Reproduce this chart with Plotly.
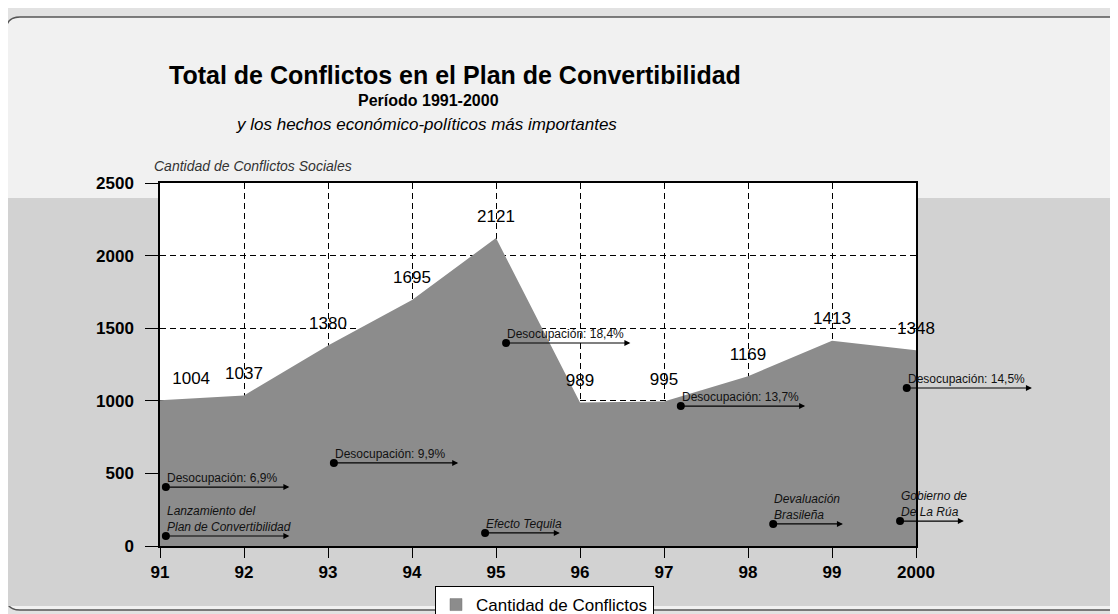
import plotly.graph_objects as go

# ---------------- data ----------------
years = [1991, 1992, 1993, 1994, 1995, 1996, 1997, 1998, 1999, 2000]
conflicts = [1004, 1037, 1380, 1695, 2121, 989, 995, 1169, 1413, 1348]
tick_labels = ["91", "92", "93", "94", "95", "96", "97", "98", "99", "2000"]
label_pos = ["top right", "top center", "top center", "top center", "top center",
             "top center", "top center", "top center", "top center", "top center"]

event_x = [1991.07, 1991.07, 1993.07, 1994.87, 1995.12, 1997.2, 1998.3, 1999.81, 1999.89]
event_y = [406, 69, 572, 90, 1398, 964, 152, 172, 1088]
event_end = [1992.54, 1992.54, 1994.55, 1995.76, 1996.6, 1998.68, 1999.13, 2000.57, 2001.38]
event_text = ["Desocupación: 6,9%", "Lanzamiento del<br>Plan de Convertibilidad",
              "Desocupación: 9,9%", "Efecto Tequila", "Desocupación: 18,4%",
              "Desocupación: 13,7%", "Devaluación<br>Brasileña", "Gobierno de<br>De La Rúa",
              "Desocupación: 14,5%"]
event_italic = [False, True, False, True, False, False, True, True, False]

# ---------------- layout geometry (screen px, page body offset of 8px) ----------------
OFF = 8
W, H = 1118 - OFF, 614 - OFF
ML, MR, MT, MB = 160 - OFF, 202, 183 - OFF, 68
PW = W - ML - MR
PH = H - MT - MB


def px_x(px):
    return (px - OFF - ML) / PW


def px_y(py):
    return (H - MB - (py - OFF)) / PH


FONT = "Liberation Sans, Arial, sans-serif"
AREA = "#8c8c8c"

fig = go.Figure()

fig.add_trace(go.Scatter(
    x=years, y=conflicts, mode="lines", fill="tozeroy",
    line=dict(color=AREA, width=0), fillcolor=AREA,
    name="Cantidad de Conflictos", showlegend=False, hoverinfo="x+y",
))

# legend-only square swatch
fig.add_trace(go.Bar(
    x=[None], y=[None], marker=dict(color=AREA, line=dict(color="#777", width=0.5)),
    name="Cantidad de Conflictos", showlegend=True,
))

fig.add_trace(go.Scatter(
    x=years, y=conflicts, mode="markers+text", text=[str(v) for v in conflicts],
    marker=dict(size=18, opacity=0),
    textposition=label_pos, textfont=dict(family=FONT, size=17, color="black"),
    showlegend=False, cliponaxis=False, hoverinfo="skip",
))

fig.add_trace(go.Scatter(
    x=event_x, y=event_y, mode="markers",
    marker=dict(color="black", size=8), showlegend=False, cliponaxis=False,
    hoverinfo="skip",
))

annotations = []
for ex, ey, ee, et, it in zip(event_x, event_y, event_end, event_text, event_italic):
    annotations.append(dict(
        x=ee, y=ey, ax=ex, ay=ey, xref="x", yref="y", axref="x", ayref="y",
        text="", showarrow=True, arrowhead=2, arrowsize=1, arrowwidth=1.2,
        arrowcolor="black",
    ))
    annotations.append(dict(
        x=ex, y=ey, xref="x", yref="y", xanchor="left", yanchor="bottom",
        text=("<i>%s</i>" % et) if it else et, showarrow=False, align="left",
        xshift=-1, yshift=0,
        font=dict(family=FONT, size=12, color="#111"),
    ))

annotations += [
    dict(x=px_x(455), y=px_y(75), xref="paper", yref="paper", showarrow=False,
         text="<b>Total de Conflictos en el Plan de Convertibilidad</b>",
         font=dict(family=FONT, size=25, color="black"), xanchor="center", yanchor="middle"),
    dict(x=px_x(428), y=px_y(101), xref="paper", yref="paper", showarrow=False,
         text="<b>Período 1991-2000</b>",
         font=dict(family=FONT, size=16, color="black"), xanchor="center", yanchor="middle"),
    dict(x=px_x(426), y=px_y(125), xref="paper", yref="paper", showarrow=False,
         text="<i>y los hechos económico-políticos más importantes</i>",
         font=dict(family=FONT, size=17, color="black"), xanchor="center", yanchor="middle"),
    dict(x=px_x(152), y=px_y(166), xref="paper", yref="paper", showarrow=False,
         text="<i>Cantidad de Conflictos Sociales</i>",
         font=dict(family=FONT, size=14, color="#333"), xanchor="left", yanchor="middle"),
]


def rounded_rect(x0, y0, x1, y1, r):
    pts = [
        ("M", x0 + r, y0), ("L", x1 - r, y0), ("Q", x1, y0, x1, y0 + r),
        ("L", x1, y1 - r), ("Q", x1, y1, x1 - r, y1), ("L", x0 + r, y1),
        ("Q", x0, y1, x0, y1 - r), ("L", x0, y0 + r), ("Q", x0, y0, x0 + r, y0),
    ]
    s = ""
    for p in pts:
        cmd = p[0]
        coords = p[1:]
        conv = []
        for i in range(0, len(coords), 2):
            conv.append("%.5f,%.5f" % (px_x(coords[i]), px_y(coords[i + 1])))
        s += cmd + " " + " ".join(conv) + " "
    return s + "Z"


shapes = [
    dict(type="path", xref="paper", yref="paper", path=rounded_rect(6, 17, 1140, 610, 14),
         fillcolor="#f1f1f1", line=dict(color="#555", width=1.5), layer="below"),
    dict(type="rect", xref="paper", yref="paper", x0=px_x(8), x1=px_x(1118),
         y0=px_y(606), y1=px_y(198), fillcolor="#d2d2d2", line=dict(width=0), layer="below"),
    dict(type="rect", xref="x", yref="y", x0=1991, x1=2000, y0=0, y1=2500,
         fillcolor="white", line=dict(width=0), layer="below"),
]

fig.update_layout(
    width=W, height=H,
    margin=dict(l=ML, r=MR, t=MT, b=MB, autoexpand=False),
    paper_bgcolor="#e2e2e2", plot_bgcolor="rgba(0,0,0,0)",
    font=dict(family=FONT, color="black"),
    showlegend=True,
    legend=dict(x=px_x(435), y=px_y(586), xanchor="left", yanchor="top",
                orientation="h", bgcolor="white", bordercolor="black", borderwidth=1,
                font=dict(family=FONT, size=17, color="black"), itemwidth=30,
                itemclick=False),
    annotations=annotations,
    shapes=shapes,
)

fig.update_xaxes(
    range=[1991, 2000], tickmode="array", tickvals=years, ticktext=tick_labels,
    showgrid=True, gridcolor="black", griddash="6px,4px", gridwidth=1,
    showline=True, linecolor="black", linewidth=1.5, mirror=True,
    ticks="outside", ticklen=10, tickcolor="black",
    tickfont=dict(family=FONT, size=17, color="black", weight="bold"),
    zeroline=False,
)
fig.update_yaxes(
    range=[0, 2500], tickmode="array", tickvals=[0, 500, 1000, 1500, 2000, 2500],
    showgrid=True, gridcolor="black", griddash="6px,4px", gridwidth=1,
    showline=True, linecolor="black", linewidth=1.5, mirror=True,
    ticks="outside", ticklen=13, tickcolor="black", ticklabelstandoff=8,
    tickfont=dict(family=FONT, size=17, color="black", weight="bold"),
    zeroline=False,
)

fig.write_html("out.html")
